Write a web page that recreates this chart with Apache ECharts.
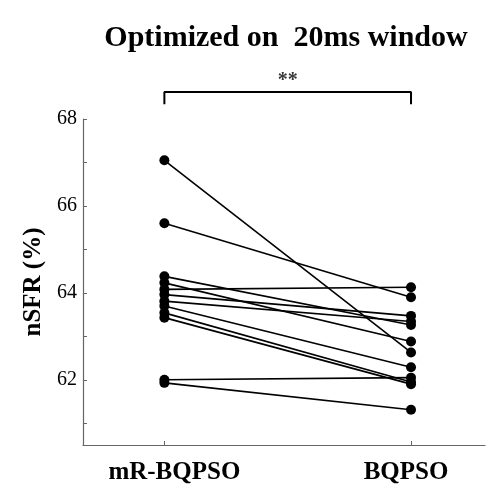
<!DOCTYPE html>
<html><head><meta charset="utf-8">
<script src="https://cdn.jsdelivr.net/npm/echarts@6/dist/echarts.min.js"></script>
<style>html,body{margin:0;padding:0;background:#fff}#c{width:488px;height:491px}</style>
</head><body><div id="c"></div>
<script>
const groups = ['mR-BQPSO', 'BQPSO'];
const groupPos = [1, 2];
const mrBQPSO = [67.05, 65.60, 64.38, 64.23, 64.08, 63.96, 63.81, 63.70, 63.54, 63.43, 62.00, 61.93];
const bqpso   = [62.63, 63.90, 63.26, 62.88, 64.13, 63.47, 63.34, 62.29, 61.95, 61.90, 62.05, 61.31];
const yTickLabels = [62, 64, 66, 68];
const yTicks = [61, 62, 63, 64, 65, 66, 67, 68];
const sigText = '**';
const bracketY = [68.34, 68.62];

const serif = 'Liberation Serif';
const series = [];
for (let i = 0; i < mrBQPSO.length; i++) {
  series.push({
    type: 'line',
    data: [[groupPos[0], mrBQPSO[i]], [groupPos[1], bqpso[i]]],
    symbol: 'circle', symbolSize: 10,
    lineStyle: {color: '#000', width: 1.6},
    itemStyle: {color: '#000'},
    silent: true, animation: false
  });
}
series.push({
  type: 'line', clip: false, silent: true, animation: false,
  data: [[groupPos[0], bracketY[0]], [groupPos[0], bracketY[1]], [groupPos[1], bracketY[1]], [groupPos[1], bracketY[0]]],
  symbol: 'none', lineStyle: {color: '#000', width: 2}
});
series.push({
  type: 'scatter', clip: false, silent: true, animation: false,
  data: [[(groupPos[0] + groupPos[1]) / 2, bracketY[1]]],
  symbolSize: 0,
  label: {show: true, position: 'top', distance: 1, formatter: sigText,
    fontFamily: serif, fontWeight: 'bold', fontSize: 20, color: '#000'}
});

const chart = echarts.init(document.getElementById('c'), null, {renderer: 'canvas'});
chart.setOption({
  animation: false,
  title: {text: 'Optimized on  20ms window', left: 281, top: 18, textAlign: 'center',
    textStyle: {fontFamily: serif, fontWeight: 'bold', fontSize: 30, color: '#000'}},
  grid: {left: 83, right: 3, top: 119, bottom: 46},
  xAxis: {
    type: 'value', min: 0.67, max: 2.3,
    splitLine: {show: false},
    axisLine: {lineStyle: {color: '#666', width: 1.2}},
    axisTick: {inside: true, length: 4, customValues: groupPos, lineStyle: {color: '#666'}},
    axisLabel: {customValues: groupPos, margin: 15,
      formatter: v => (Math.round(v) === groupPos[0] ? '{a|' : '{b|') + (groups[groupPos.indexOf(Math.round(v))] || '') + '}',
      rich: {
        a: {padding: [0, 0, 0, 20], fontFamily: serif, fontWeight: 'bold', fontSize: 25, color: '#000'},
        b: {padding: [0, 10, 0, 0], fontFamily: serif, fontWeight: 'bold', fontSize: 25, color: '#000'}
      },
      fontFamily: serif, fontWeight: 'bold', fontSize: 25, color: '#000'}
  },
  yAxis: {
    type: 'value', min: 60.5, max: 68,
    name: 'nSFR (%)', nameLocation: 'middle', nameGap: 29, nameRotate: 90,
    nameTextStyle: {fontFamily: serif, fontWeight: 'bold', fontSize: 25, color: '#000'},
    splitLine: {show: false},
    axisLine: {show: true, lineStyle: {color: '#666', width: 1.2}},
    axisTick: {show: true, inside: true, length: 4, customValues: yTicks, lineStyle: {color: '#666'}},
    axisLabel: {customValues: yTickLabels, margin: 6,
      fontFamily: serif, fontSize: 20, color: '#000'}
  },
  series: series
});
</script></body></html>
